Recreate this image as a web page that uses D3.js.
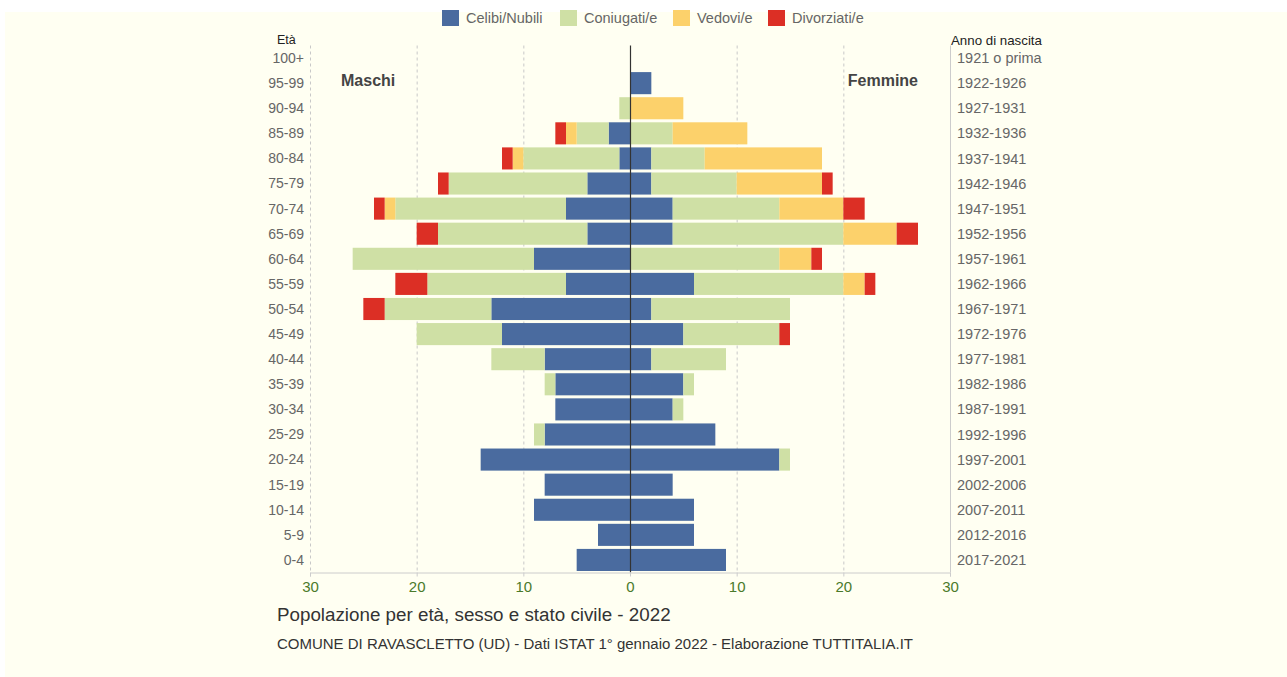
<!DOCTYPE html>
<html>
<head>
<meta charset="utf-8">
<script src="https://cdn.jsdelivr.net/npm/d3@7"></script>
<style>
  body { margin: 0; background: #ffffff; font-family: "Liberation Sans", Arial, sans-serif; }
  svg text { font-family: "Liberation Sans", Arial, sans-serif; }
</style>
</head>
<body>
<svg id="chart" width="1287" height="677"></svg>
<script>
// Classi di età (dall'alto verso il basso) e anni di nascita
const AGES = ["100+", "95-99", "90-94", "85-89", "80-84", "75-79", "70-74", "65-69", "60-64", "55-59",
  "50-54", "45-49", "40-44", "35-39", "30-34", "25-29", "20-24", "15-19", "10-14", "5-9", "0-4"];
const YEARS = ["1921 o prima", "1922-1926", "1927-1931", "1932-1936", "1937-1941", "1942-1946", "1947-1951",
  "1952-1956", "1957-1961", "1962-1966", "1967-1971", "1972-1976", "1977-1981", "1982-1986", "1987-1991",
  "1992-1996", "1997-2001", "2002-2006", "2007-2011", "2012-2016", "2017-2021"];

// Maschi
const M_CELIBI     = [0, 0, 0, 2, 1, 4, 6, 4, 9, 6, 13, 12, 8, 7, 7, 8, 14, 8, 9, 3, 5];
const M_CONIUGATI  = [0, 0, 1, 3, 9, 13, 16, 14, 17, 13, 10, 8, 5, 1, 0, 1, 0, 0, 0, 0, 0];
const M_VEDOVI     = [0, 0, 0, 1, 1, 0, 1, 0, 0, 0, 0, 0, 0, 0, 0, 0, 0, 0, 0, 0, 0];
const M_DIVORZIATI = [0, 0, 0, 1, 1, 1, 1, 2, 0, 3, 2, 0, 0, 0, 0, 0, 0, 0, 0, 0, 0];

// Femmine
const F_NUBILI     = [0, 2, 0, 0, 2, 2, 4, 4, 0, 6, 2, 5, 2, 5, 4, 8, 14, 4, 6, 6, 9];
const F_CONIUGATE  = [0, 0, 0, 4, 5, 8, 10, 16, 14, 14, 13, 9, 7, 1, 1, 0, 1, 0, 0, 0, 0];
const F_VEDOVE     = [0, 0, 5, 7, 11, 8, 6, 5, 3, 2, 0, 0, 0, 0, 0, 0, 0, 0, 0, 0, 0];
const F_DIVORZIATE = [0, 0, 0, 0, 0, 1, 2, 2, 1, 1, 0, 1, 0, 0, 0, 0, 0, 0, 0, 0, 0];

const LEGEND = ["Celibi/Nubili", "Coniugati/e", "Vedovi/e", "Divorziati/e"];
const COLORS = ["#4a6b9f", "#cfe0a5", "#fcd16b", "#dc2f25"];
const X_TICKS = [-30, -20, -10, 0, 10, 20, 30];

const svg = d3.select("#chart");

// Sfondo avorio
svg.append("rect").attr("x", 5).attr("y", 12).attr("width", 1282).attr("height", 665).attr("fill", "#fffff2");

const LEFT = 310, RIGHT = 950, TOP = 45.5, BOTTOM = 572.5;

const x = d3.scaleLinear().domain([-30, 30]).range([LEFT, RIGHT]);
const y = d3.scaleBand().domain(AGES).range([TOP, BOTTOM]).paddingInner(0.12).paddingOuter(0.06);

// Griglia tratteggiata
svg.append("g").selectAll("line")
  .data([-30, -20, -10, 10, 20])
  .join("line")
  .attr("x1", d => x(d) + 0.5).attr("x2", d => x(d) + 0.5)
  .attr("y1", TOP).attr("y2", BOTTOM)
  .attr("stroke", "#c8c8c8").attr("stroke-dasharray", "3,3");

// Linea destra grigia
svg.append("line").attr("x1", x(30) + 0.5).attr("x2", x(30) + 0.5).attr("y1", TOP).attr("y2", BOTTOM)
  .attr("stroke", "#cccccc");

// Costruzione degli stack
const maleSeries = [M_CELIBI, M_CONIUGATI, M_VEDOVI, M_DIVORZIATI];
const femaleSeries = [F_NUBILI, F_CONIUGATE, F_VEDOVE, F_DIVORZIATE];

function stackRows(series, sign) {
  const rows = [];
  AGES.forEach((age, i) => {
    let acc = 0;
    series.forEach((s, k) => {
      const v = s[i];
      if (v > 0) rows.push({ age, k, x0: sign * acc, x1: sign * (acc + v) });
      acc += v;
    });
  });
  return rows;
}

const bars = stackRows(maleSeries, -1).concat(stackRows(femaleSeries, 1));
svg.append("g").selectAll("rect")
  .data(bars)
  .join("rect")
  .attr("x", d => x(Math.min(d.x0, d.x1)))
  .attr("width", d => Math.abs(x(d.x1) - x(d.x0)))
  .attr("y", d => y(d.age))
  .attr("height", y.bandwidth())
  .attr("fill", d => COLORS[d.k]);

// Linea centrale
svg.append("line").attr("x1", x(0) + 0.5).attr("x2", x(0) + 0.5).attr("y1", TOP).attr("y2", BOTTOM)
  .attr("stroke", "#333333").attr("stroke-width", 1.2);

// Asse inferiore
const xAxis = d3.axisBottom(x).tickValues(X_TICKS)
  .tickFormat(d => Math.abs(d)).tickSize(4);
const gx = svg.append("g").attr("transform", `translate(0,${BOTTOM})`).call(xAxis);
gx.select(".domain").attr("stroke", "#cccccc");
gx.selectAll(".tick line").attr("stroke", "#cccccc");
gx.selectAll(".tick text").attr("fill", "#4b7a2b").attr("font-size", 15).attr("dy", "0.85em");

// Etichette età
svg.append("g").selectAll("text")
  .data(AGES)
  .join("text")
  .attr("x", LEFT - 6)
  .attr("y", d => y(d) + y.bandwidth() / 2)
  .attr("dy", "0.35em")
  .attr("text-anchor", "end")
  .attr("font-size", 14)
  .attr("fill", "#666666")
  .text(d => d);

// Etichette anno di nascita
svg.append("g").selectAll("text")
  .data(YEARS)
  .join("text")
  .attr("x", RIGHT + 7)
  .attr("y", (d, i) => y(AGES[i]) + y.bandwidth() / 2)
  .attr("dy", "0.35em")
  .attr("font-size", 14.5)
  .attr("fill", "#666666")
  .text(d => d);

svg.append("text").attr("x", 277).attr("y", 44).attr("font-size", 12.5).attr("fill", "#222").text("Età");
svg.append("text").attr("x", 951).attr("y", 45).attr("font-size", 13.3).attr("fill", "#222").text("Anno di nascita");

svg.append("text").attr("x", 341).attr("y", 86).attr("font-size", 16).attr("font-weight", "bold")
  .attr("fill", "#444").text("Maschi");
svg.append("text").attr("x", 918).attr("y", 86).attr("font-size", 16).attr("font-weight", "bold")
  .attr("text-anchor", "end").attr("fill", "#444").text("Femmine");

// Legenda
const legendX = [442, 560, 673, 768];
const lg = svg.append("g").selectAll("g")
  .data(LEGEND)
  .join("g")
  .attr("transform", (d, i) => `translate(${legendX[i]},10)`);
lg.append("rect").attr("width", 17).attr("height", 16).attr("fill", (d, i) => COLORS[i]);
lg.append("text").attr("x", 24).attr("y", 13).attr("font-size", 14.5).attr("fill", "#666").text(d => d);

// Titoli
svg.append("text").attr("x", 277).attr("y", 621).attr("font-size", 18.8).attr("fill", "#333")
  .text("Popolazione per età, sesso e stato civile - 2022");
svg.append("text").attr("x", 277).attr("y", 649).attr("font-size", 14)
  .attr("textLength", 636).attr("lengthAdjust", "spacingAndGlyphs").attr("fill", "#333")
  .text("COMUNE DI RAVASCLETTO (UD) - Dati ISTAT 1° gennaio 2022 - Elaborazione TUTTITALIA.IT");
</script>
</body>
</html>
